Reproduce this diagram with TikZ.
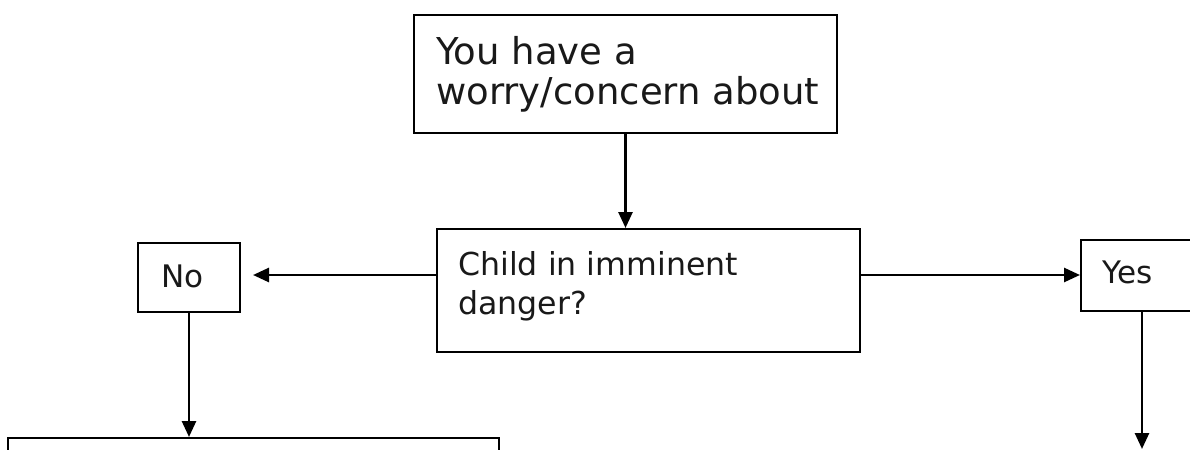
\documentclass[tikz,border=0pt]{standalone}
\usepackage{fontspec}
\setmainfont{DejaVu Sans}
\usetikzlibrary{arrows.meta}
\begin{document}
\begin{tikzpicture}[x=0.75pt,y=-0.75pt,
  box/.style={draw=black,line width=1.5pt,inner sep=0pt,fill=white},
  lbl/.style={anchor=base west,inner sep=0pt,text=black!90},
  bigtxt/.style={font=\fontsize{27.75pt}{31pt}\selectfont},
  midtxt/.style={font=\fontsize{23.7pt}{29pt}\selectfont},
  smltxt/.style={font=\fontsize{23.3pt}{28pt}\selectfont},
  arr/.style={line width=2pt,-{Triangle[length=12pt,width=10.5pt]}}]
\useasboundingbox (0,0) rectangle (1190,450);
\clip (0,0) rectangle (1190,450);
% boxes
\node[box,minimum width=317.25pt,minimum height=88.5pt] (top) at (625.5,74) {};
\node[box,minimum width=317.25pt,minimum height=92.25pt] (child) at (648.5,290.5) {};
\node[box,minimum width=76.5pt,minimum height=51.75pt] (no) at (189,277.5) {};
\node[box,minimum width=91.5pt,minimum height=53.25pt] (yes) at (1142,275.5) {};
\node[box,minimum width=368.25pt,minimum height=75pt] (bot) at (253.5,488) {};
% texts
\node[lbl,bigtxt] (t1) at (436,64) {You have a};
\node[lbl,bigtxt] (t2) at (436,104) {worry/concern about};
\node[lbl,midtxt] (c1) at (458,275) {Child in imminent};
\node[lbl,midtxt] (c2) at (458,314) {danger?};
\node[lbl,smltxt] (nt) at (161,287) {No};
\node[lbl,smltxt] (yt) at (1102,283) {Yes};
% connectors
\coordinate (hy) at (0,275);
\coordinate (yesend) at (1142,449);
\draw[arr] (top.south) -- (top.south |- child.north);
\draw[arr] (child.west |- hy) -- ([xshift=9pt]no.east |- hy);
\draw[arr] (child.east |- hy) -- (yes.west |- hy);
\draw[arr] (no.south) -- (no.south |- bot.north);
\draw[arr] (yes.south) -- (yesend);
\end{tikzpicture}
\end{document}
